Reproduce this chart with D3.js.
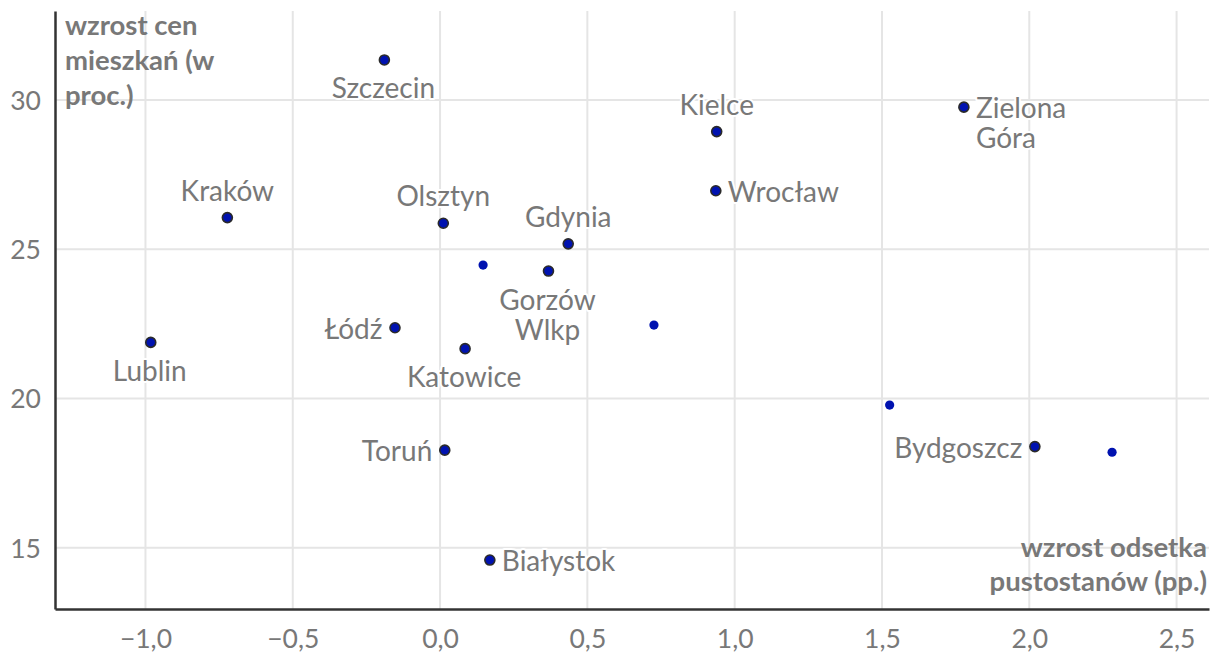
<!DOCTYPE html>
<html><head><meta charset="utf-8">
<script src="https://cdn.jsdelivr.net/npm/d3@7"></script>
<style>
html,body{margin:0;padding:0;background:#fff;}
svg text{font-family:Lato,"DejaVu Sans",sans-serif;}
</style></head>
<body>
<svg id="chart" width="1220" height="666"></svg>
<script>
// ---- data ----
const cities = ["Szczecin","Kielce","Zielona Góra","Kraków","Olsztyn","Wrocław","Gdynia","","Gorzów Wlkp","","Łódź","Katowice","Lublin","","Bydgoszcz","","Toruń","Białystok"];
const vacancyChange = [-0.189,0.939,1.778,-0.722,0.011,0.936,0.435,0.146,0.368,0.726,-0.153,0.085,-0.982,1.526,2.019,2.281,0.016,0.169];
const priceChange = [31.34,28.94,29.76,26.06,25.87,26.96,25.18,24.47,24.27,22.46,22.37,21.67,21.88,19.78,18.39,18.20,18.27,14.59];
const xTicks = [-1.0,-0.5,0.0,0.5,1.0,1.5,2.0,2.5];
const yTicks = [15,20,25,30];
const xTitle = ["wzrost odsetka","pustostanów (pp.)"];
const yTitle = ["wzrost cen","mieszkań (w","proc.)"];

// label placement: a = above, b = below, l = left, r = right
const labelSide = {"Szczecin":"b","Kielce":"a","Zielona Góra":"r","Kraków":"a","Olsztyn":"a","Wrocław":"r","Gdynia":"a","Gorzów Wlkp":"b","Łódź":"l","Katowice":"b","Lublin":"b","Bydgoszcz":"l","Toruń":"l","Białystok":"r"};
const labelLines = {"Zielona Góra":["Zielona","Góra"],"Gorzów Wlkp":["Gorzów","Wlkp"]};

// ---- layout ----
const svg = d3.select("#chart");
const L=55, R=1209, T=11, B=609;
const x = d3.scaleLinear().domain([-1.307,2.61]).range([L,R]);
const y = d3.scaleLinear().domain([12.95,32.98]).range([B,T]);
const textCol = "#787878";
const fmt = v => (v<0?"\u2212":"") + Math.abs(v).toFixed(1).replace(".",",");

// grid
const g = svg.append("g");
g.selectAll("line.vx").data(xTicks).enter().append("line")
  .attr("x1",d=>x(d)).attr("x2",d=>x(d)).attr("y1",T).attr("y2",B)
  .attr("stroke","#e5e5e5").attr("stroke-width",2);
g.selectAll("line.hy").data(yTicks).enter().append("line")
  .attr("x1",L).attr("x2",R).attr("y1",d=>y(d)).attr("y2",d=>y(d))
  .attr("stroke","#e5e5e5").attr("stroke-width",2);

// axes
const xAxis = d3.axisBottom(x).tickValues(xTicks).tickFormat(fmt).tickSize(0).tickPadding(20);
const yAxis = d3.axisLeft(y).tickValues(yTicks).tickFormat(d=>d).tickSize(0).tickPadding(14);
const gx = svg.append("g").attr("transform",`translate(0,${B})`).call(xAxis);
const gy = svg.append("g").attr("transform",`translate(${L},0)`).call(yAxis);
[gx,gy].forEach(a=>{
  a.select(".domain").attr("stroke","#333").attr("stroke-width",2.5);
  a.selectAll("text").attr("fill",textCol).style("font-size","26.5px").style("font-family","Lato");
});
gy.selectAll("text").attr("dy","0.35em");

// axis titles
const yt = svg.append("text").attr("x",65).attr("y",35)
  .attr("fill",textCol).style("font-size","27.5px").style("font-weight","bold");
yTitle.forEach((t,i)=>yt.append("tspan").attr("x",65).attr("y",35+i*35).text(t));
const xt = svg.append("text").attr("text-anchor","end")
  .attr("fill",textCol).style("font-size","27.5px").style("font-weight","bold");
xTitle.forEach((t,i)=>xt.append("tspan").attr("x",1207).attr("y",557+i*34).text(t));

// points
const pts = cities.map((c,i)=>({c, vx:vacancyChange[i], vy:priceChange[i]}));
svg.append("g").selectAll("circle").data(pts).enter().append("circle")
  .attr("cx",d=>x(d.vx)).attr("cy",d=>y(d.vy))
  .attr("r",d=>d.c?5:4.6)
  .attr("fill","#0012b0")
  .attr("stroke",d=>d.c?"#2a2a2a":"none").attr("stroke-width",1.6);

// labels
const lab = svg.append("g");
pts.filter(d=>d.c).forEach(d=>{
  const side = labelSide[d.c];
  const lines = labelLines[d.c] || [d.c];
  const px = x(d.vx), py = y(d.vy);
  let anchor="middle", tx=px, ty=py;
  if(side==="a"){ ty = py-17; }
  else if(side==="b"){ ty = py+38.5; tx = px-1; }
  else if(side==="l"){ anchor="end"; tx = px-12.5; ty = py+11; }
  else { anchor="start"; tx = px+12; ty = py+11; }
  const t = lab.append("text").attr("text-anchor",anchor).attr("fill",textCol)
    .style("font-size","28px")
    .attr("stroke","#fff").attr("stroke-width",4).attr("paint-order","stroke")
    .attr("stroke-linejoin","round");
  lines.forEach((s,i)=>t.append("tspan").attr("x",tx).attr("y",ty+i*30).text(s));
});
</script>
</body></html>
